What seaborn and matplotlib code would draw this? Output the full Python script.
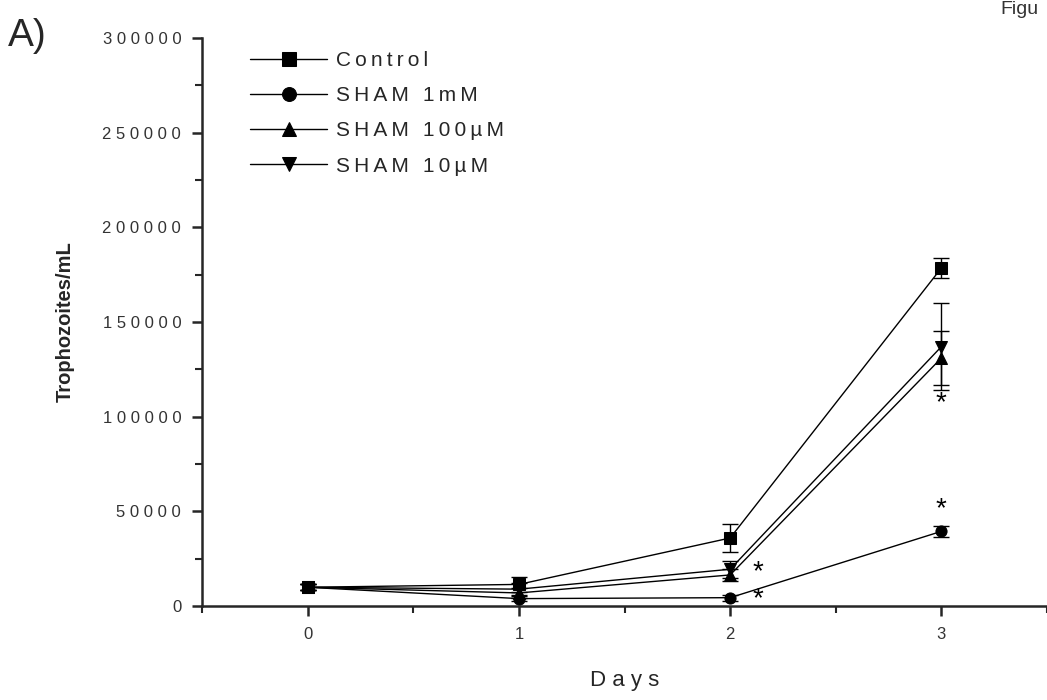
import matplotlib
matplotlib.use("Agg")
import matplotlib.pyplot as plt
import seaborn as sns
import numpy as np
import pandas as pd
from matplotlib.ticker import MultipleLocator, FuncFormatter

# 数据
days = [0, 1, 2, 3]
groups = ["Control", "SHAM 1mM", "SHAM 100µM", "SHAM 10µM"]
control = [10000, 11500, 36000, 178500]
control_sd = [1500, 4000, 7500, 5500]
sham_1mm = [10000, 4000, 4500, 39500]
sham_1mm_sd = [1500, 1500, 1500, 3000]
sham_100um = [10000, 7000, 16500, 131000]
sham_100um_sd = [1500, 2500, 3000, 14000]
sham_10um = [10000, 9000, 19500, 137000]
sham_10um_sd = [1500, 3000, 4500, 23000]
star_days = [2.13, 2.13, 3.0, 3.0]
star_values = [18000, 3500, 107000, 51000]

means = [control, sham_1mm, sham_100um, sham_10um]
sds = [control_sd, sham_1mm_sd, sham_100um_sd, sham_10um_sd]


def spaced(s, sep="\u2009"):
    # 模拟原图中较宽的字间距
    return sep.join(s)


rows = []
for g, m, s in zip(groups, means, sds):
    for d, v, e in zip(days, m, s):
        rows.append({"Days": d, "Trophozoites/mL": v, "sd": e, "group": g})
df = pd.DataFrame(rows)

sns.set_theme(style="ticks")
plt.rcParams['font.family'] = ['Liberation Sans', 'DejaVu Sans']

fig = plt.figure(figsize=(10.47, 7), dpi=100)
ax = fig.add_axes([0.193, 0.134, 0.807, 0.812])

markers = {"Control": "s", "SHAM 1mM": "o", "SHAM 100µM": "^", "SHAM 10µM": "v"}

for g in groups:
    sub = df[df["group"] == g]
    ax.errorbar(sub["Days"], sub["Trophozoites/mL"], yerr=sub["sd"], fmt="none",
                ecolor="black", elinewidth=1, capsize=6, capthick=1, zorder=2)

sns.lineplot(data=df, x="Days", y="Trophozoites/mL", hue="group", style="group",
             markers=markers, dashes=False, palette=["black"] * 4,
             linewidth=1, markersize=8, markeredgecolor="black",
             errorbar=None, ax=ax, zorder=3)

for x, y in zip(star_days, star_values):
    ax.text(x, y, "*", ha="center", va="center", fontsize=20, color="black")

ax.set_xlim(-0.5, 3.5)
ax.set_ylim(0, 300000)
ax.xaxis.set_major_locator(MultipleLocator(1))
ax.xaxis.set_minor_locator(MultipleLocator(0.5))
ax.yaxis.set_major_locator(MultipleLocator(50000))
ax.yaxis.set_minor_locator(MultipleLocator(25000))
ax.yaxis.set_major_formatter(FuncFormatter(lambda v, p: spaced(f"{int(v)}", " ")))
ax.xaxis.set_major_formatter(FuncFormatter(lambda v, p: f"{int(v)}"))
ax.tick_params(axis="both", which="major", length=7, width=1.8, direction="out",
               labelsize=12, labelcolor="#333333", pad=8)
ax.tick_params(axis="both", which="minor", length=5, width=1.5, direction="out")

sns.despine(ax=ax)
ax.spines["left"].set_linewidth(1.8)
ax.spines["bottom"].set_linewidth(1.8)

ax.set_xlabel("D a y s", fontsize=16, labelpad=20)
ax.set_ylabel("Trophozoites/mL", fontsize=14.5, fontweight="bold", labelpad=20)

handles, labels = ax.get_legend_handles_labels()
for h in handles:
    h.set_markersize(10)
leg = ax.legend(handles, [spaced(l) for l in labels], loc="upper left",
                bbox_to_anchor=(0.035, 1.01), frameon=False, fontsize=15,
                handlelength=3.7, labelspacing=0.78, handletextpad=0.4)

fig.text(0.008, 0.935, "A)", fontsize=28)
fig.text(0.955, 0.998, "Figu", fontsize=14, color="#333333", va="top")

plt.savefig("out.png", dpi=100)
